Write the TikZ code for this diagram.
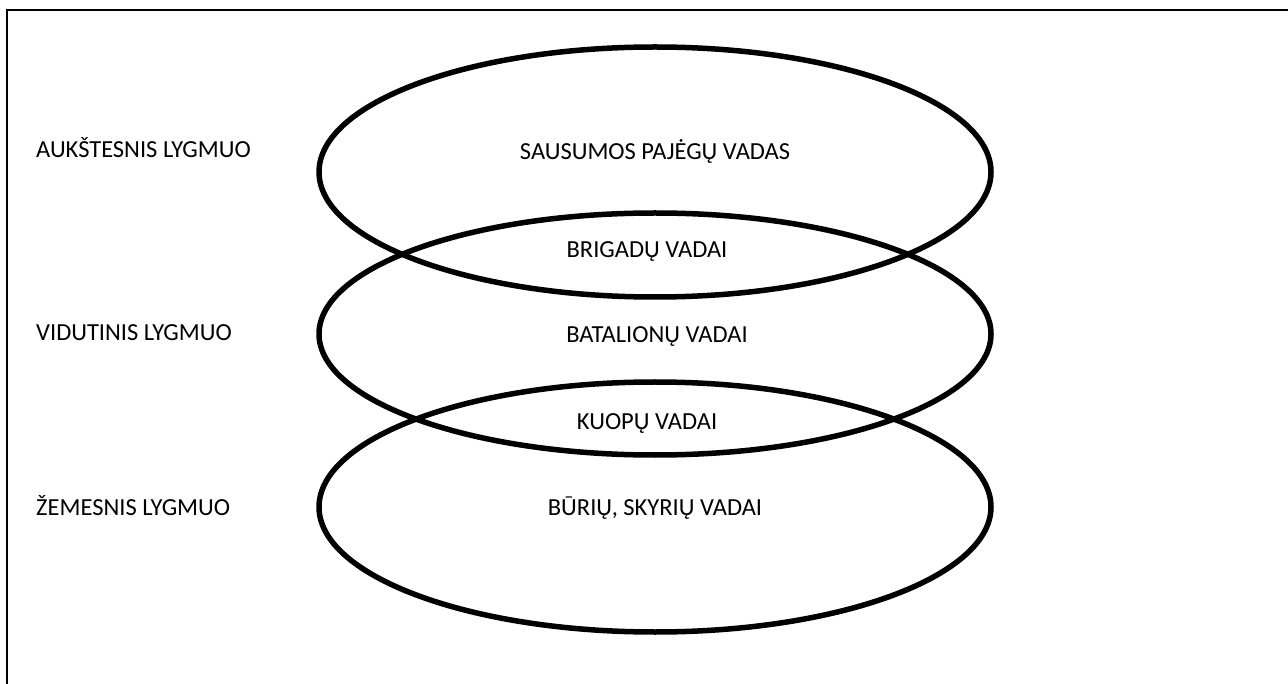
\documentclass[tikz,border=0pt]{standalone}
\usepackage{fontspec}
\setmainfont{Carlito}
\begin{document}
\begin{tikzpicture}[x=1pt,y=-1pt,
  lvl/.style={draw=black,line width=5.5pt},
  lbl/.style={font=\fontsize{24.5}{28}\selectfont,inner sep=0pt,anchor=base west},
  ctr/.style={font=\fontsize{24.5}{28}\selectfont,inner sep=0pt,anchor=base}]
\useasboundingbox (0,0) rectangle (1288,684);
\fill[white] (0,0) rectangle (1288,684);
% frame
\draw[line width=1.8pt] (7,684) -- (7,10) -- (1288,10);
% ellipses
\draw[lvl] (655,172) ellipse [x radius=336, y radius=125];
\draw[lvl] (655,334) ellipse [x radius=336, y radius=121];
\draw[lvl] (655,507) ellipse [x radius=336, y radius=125];
% left labels
\node[lbl] (a) at (36,158) {AUKŠTESNIS LYGMUO};
\node[lbl] (b) at (36,341) {VIDUTINIS LYGMUO};
\node[lbl] (c) at (36,515) {ŽEMESNIS LYGMUO};
% centre labels
\node[ctr] (s) at (655,160) {SAUSUMOS PAJĖGŲ VADAS};
\node[ctr] (br) at (647,258) {BRIGADŲ VADAI};
\node[ctr] (ba) at (657,343) {BATALIONŲ VADAI};
\node[ctr] (k) at (647,430) {KUOPŲ VADAI};
\node[ctr] (bu) at (655,515) {BŪRIŲ, SKYRIŲ VADAI};
\end{tikzpicture}
\end{document}
